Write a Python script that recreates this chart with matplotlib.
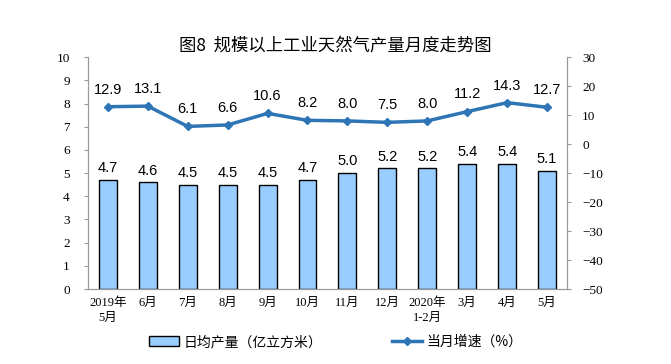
import matplotlib
matplotlib.use("Agg")
import matplotlib.pyplot as plt
import numpy as np

plt.rcParams['font.family'] = ['Noto Sans CJK SC', 'DejaVu Sans']

CATS = ["2019年\n5月", "6月", "7月", "8月", "9月", "10月", "11月", "12月",
        "2020年\n1-2月", "3月", "4月", "5月"]
OUTPUT = [4.7, 4.6, 4.5, 4.5, 4.5, 4.7, 5.0, 5.2, 5.2, 5.4, 5.4, 5.1]
GROWTH = [12.9, 13.1, 6.1, 6.6, 10.6, 8.2, 8.0, 7.5, 8.0, 11.2, 14.3, 12.7]

C_BAR, C_LINE, C_AX = "#99CCFF", "#2E75B6", "#999999"
SERIF = ['Liberation Serif', 'Noto Sans CJK SC']

fig = plt.figure(figsize=(6.71, 3.64), dpi=100)
ax = fig.add_axes([0.131, 0.206, 0.714, 0.637])
ax2 = ax.twinx()

x = np.arange(len(CATS))
ax.bar(x, OUTPUT, width=0.45, color=C_BAR, edgecolor="black", lw=1.0,
       label="日均产量（亿立方米）", zorder=2)
for xi, v in zip(x, OUTPUT):
    ax.text(xi, v + 0.2, f"{v:.1f}", ha="center", va="bottom", fontsize=10.5,
            family="Liberation Sans")

ax2.plot(x, GROWTH, color=C_LINE, lw=2.5, marker="D", markersize=4.5,
         label="当月增速（%）", zorder=3)
for xi, v in zip(x, GROWTH):
    ax2.text(xi, v + 3.5, f"{v:.1f}", ha="center", va="bottom", fontsize=10.5,
             family="Liberation Sans")

ax.set_xlim(-0.5, len(CATS) - 0.5)
ax.set_ylim(0, 10)
ax.set_yticks(range(0, 11))
ax2.set_ylim(-50, 30)
ax2.set_yticks(range(-50, 31, 10))
ax.set_xticks(x)
ax.set_xticklabels(CATS, family=SERIF, fontsize=9, linespacing=1.3)
for t in ax.get_yticklabels() + ax2.get_yticklabels():
    t.set_family(SERIF)
    t.set_fontsize(9.5)

for a in (ax, ax2):
    a.spines["top"].set_visible(False)
    for s in ("left", "right", "bottom"):
        a.spines[s].set_color(C_AX)
ax.tick_params(axis="x", length=0, pad=6)
ax.tick_params(axis="y", length=3, color=C_AX, pad=10)
ax2.tick_params(axis="y", length=3, color=C_AX, pad=8)

fig.text(0.5, 0.86, "图8  规模以上工业天然气产量月度走势图", ha="center",
         fontsize=12.5, fontweight="medium")

h1, l1 = ax.get_legend_handles_labels()
h2, l2 = ax2.get_legend_handles_labels()
fig.legend(h1 + h2, l1 + l2, loc="center", bbox_to_anchor=(0.5, 0.06),
           ncol=2, frameon=False, fontsize=10, columnspacing=5,
           handlelength=2.2, handletextpad=0.3)

fig.savefig("out.png", dpi=100)
